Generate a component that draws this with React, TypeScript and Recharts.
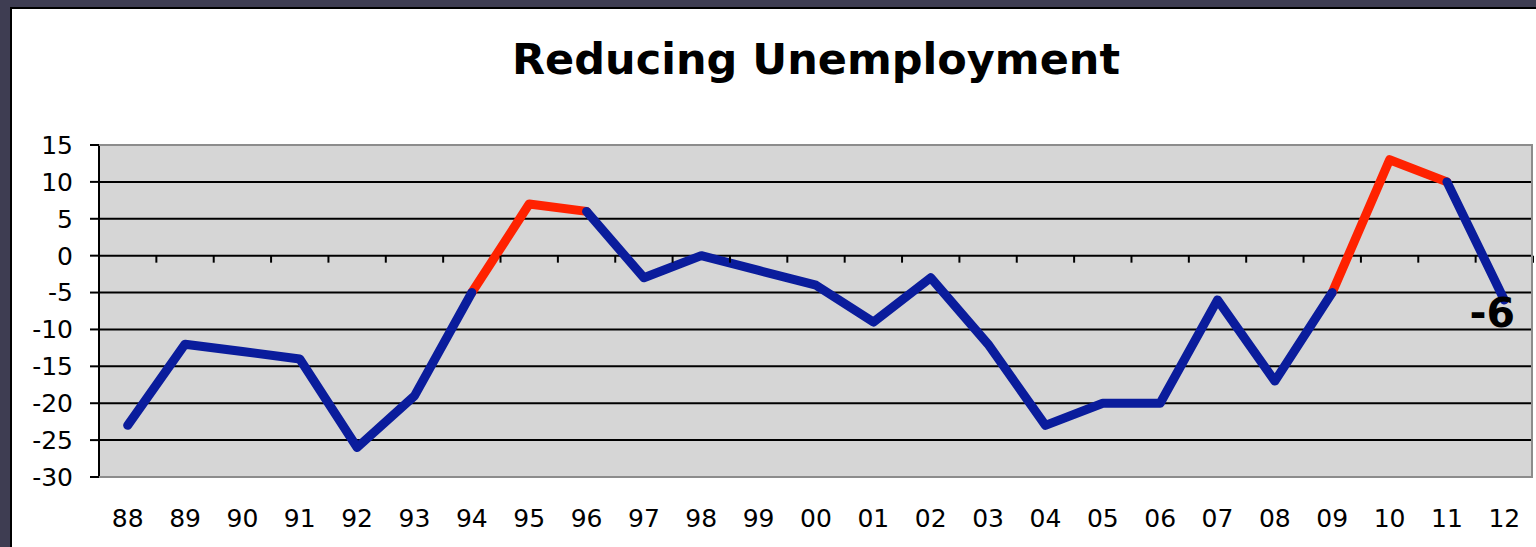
import { LineChart, Line, XAxis, YAxis, CartesianGrid, LabelList } from "recharts";

const YEARS = ["88", "89", "90", "91", "92", "93", "94", "95", "96", "97", "98", "99", "00",
  "01", "02", "03", "04", "05", "06", "07", "08", "09", "10", "11", "12"];
const CHANGE = [-23, -12, -13, -14, -26, -19, -5, 7, 6, -3, 0, -2, -4,
  -9, -3, -12, -23, -20, -20, -6, -17, -5, 13, 10, -6];
// stretches drawn in red (first and last year inclusive)
const RED_SPANS = [["94", "96"], ["09", "11"]];
const Y_TICKS = [-30, -25, -20, -15, -10, -5, 0, 5, 10, 15];

const W = 1536;
const H = 547;
const TOP = 145;
const LEFT = 99;
const RIGHT = 3;
const X_H = 70;
const PLOT_W = W - LEFT - RIGHT;
const PLOT_H = H - TOP - X_H;
const BAND = PLOT_W / YEARS.length;
const Y_MIN = Y_TICKS[0];
const Y_MAX = Y_TICKS[Y_TICKS.length - 1];
const ZERO_Y = TOP + ((Y_MAX - 0) / (Y_MAX - Y_MIN)) * PLOT_H;

const FONT = "'DejaVu Sans', Verdana, sans-serif";
const BLUE = "#0a1c9c";
const RED = "#ff2200";

const spanOf = (i: number) =>
  RED_SPANS.map(([a, b]) => [YEARS.indexOf(a), YEARS.indexOf(b)]).find(([s, e]) => i >= s && i <= e);

const data = YEARS.map((year, i) => {
  const span = spanOf(i);
  const inside = span && i > span[0] && i < span[1];
  return {
    year,
    blue: inside ? null : CHANGE[i],
    red: span ? CHANGE[i] : null,
  };
});

function YearTick(props: any) {
  const { x, y, payload } = props;
  return (
    <g>
      <line x1={x + BAND / 2} x2={x + BAND / 2} y1={ZERO_Y} y2={ZERO_Y + 7} stroke="#000" strokeWidth={2} />
      <text x={x} y={y + 41} textAnchor="middle" dominantBaseline="central" fill="#000" fontSize={25} fontFamily={FONT}>
        {payload.value}
      </text>
    </g>
  );
}

function LastLabel(props: any) {
  const { x, y, index, value } = props;
  if (index !== YEARS.length - 1) return null;
  return (
    <text x={x - 12} y={y + 13} textAnchor="middle" dominantBaseline="central" fill="#000" fontSize={41} fontWeight="bold" fontFamily={FONT}>
      {value}
    </text>
  );
}

export default function App() {
  return (
    <div style={{ position: "absolute", left: 0, top: 0, width: W, height: H, background: "#3e3d52", overflow: "hidden" }}>
      <div style={{ position: "absolute", left: 10, top: 7, right: 0, bottom: 0, background: "#fff", borderTop: "2px solid #000", borderLeft: "2px solid #000" }} />
      <div style={{ position: "absolute", left: LEFT, width: PLOT_W, top: 38, textAlign: "center", fontFamily: FONT, fontWeight: "bold", fontSize: 43, lineHeight: "43px", color: "#000" }}>
        Reducing Unemployment
      </div>
      <div style={{ position: "absolute", left: 0, top: 0 }}>
        <LineChart width={W} height={H} data={data} margin={{ top: TOP, right: RIGHT, bottom: 0, left: 0 }}>
          <CartesianGrid vertical={false} horizontalValues={Y_TICKS.slice(1, -1)} stroke="#000" strokeWidth={2} fill="#d6d6d6" fillOpacity={1} />
          <XAxis
            dataKey="year"
            height={X_H}
            interval={0}
            padding={{ left: BAND / 2, right: BAND / 2 }}
            axisLine={false}
            tickLine={false}
            tickSize={0}
            tickMargin={0}
            tick={<YearTick />}
          />
          <YAxis
            width={LEFT}
            type="number"
            domain={[Y_MIN, Y_MAX]}
            ticks={Y_TICKS}
            interval={0}
            tickSize={9}
            tickMargin={17}
            axisLine={{ stroke: "#000", strokeWidth: 2 }}
            tickLine={{ stroke: "#000", strokeWidth: 2 }}
            tick={{ fill: "#000", fontSize: 25, fontFamily: FONT }}
          />
          <Line dataKey="red" stroke={RED} strokeWidth={9} strokeLinecap="round" strokeLinejoin="round" dot={false} isAnimationActive={false} />
          <Line dataKey="blue" stroke={BLUE} strokeWidth={9} strokeLinecap="round" strokeLinejoin="round" dot={false} isAnimationActive={false}>
            <LabelList dataKey="blue" content={<LastLabel />} />
          </Line>
        </LineChart>
      </div>
      <div style={{ position: "absolute", left: LEFT, top: TOP - 1, width: PLOT_W, height: PLOT_H + 2, boxSizing: "border-box", border: "2px solid #8c8c8c", borderLeft: "none", pointerEvents: "none" }} />
    </div>
  );
}
